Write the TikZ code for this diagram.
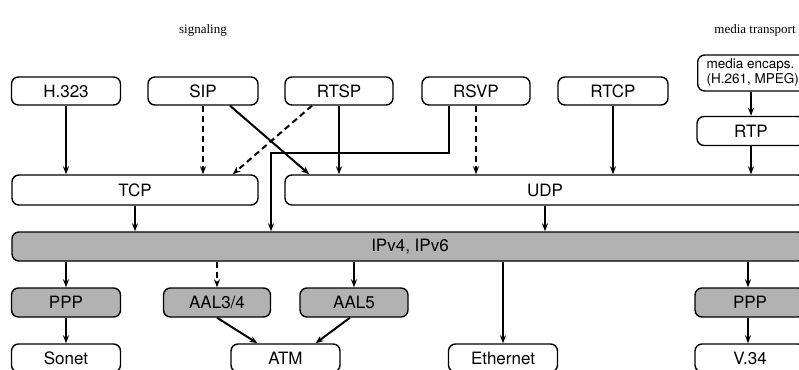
\documentclass[tikz,border=0pt]{standalone}
\usepackage{fontspec}
\setmainfont{TeX Gyre Heros}
\newfontfamily\labelfont{Liberation Serif}
\usetikzlibrary{arrows.meta}

\tikzset{
  layer/.style={draw, rounded corners=7pt, line width=1.4pt, minimum height=28pt,
    inner sep=0pt, font=\fontsize{17}{19}\selectfont},
  shaded/.style={layer, fill=black!30},
  link/.style={->, line width=2pt},
  dlink/.style={link, dash pattern=on 6pt off 4pt},
}

\begin{document}
\begin{tikzpicture}[x=1pt, y=-1pt, >={Stealth[length=8pt,width=6pt]}]
        \useasboundingbox (0,0) rectangle (799,369);

        % Kopfzeilen
        \node[font=\labelfont\fontsize{13}{15}\selectfont] (sig) at (203,30) {signaling};
        \node[font=\labelfont\fontsize{13}{15}\selectfont] (medtr) at (755,30) {media transport};

        % Anwendungen
        \node[layer, minimum width=109pt] (h323) at (66,91) {H.323};
        \node[layer, minimum width=110pt] (sip) at (203,91) {SIP};
        \node[layer, minimum width=108pt] (rtsp) at (339,91) {RTSP};
        \node[layer, minimum width=108pt] (rsvp) at (476,91) {RSVP};
        \node[layer, minimum width=110pt] (rtcp) at (613,91) {RTCP};
        \node[layer, minimum width=110pt, minimum height=36pt, anchor=west,
              inner xsep=5pt, font=\fontsize{13.5}{15.5}\selectfont] (encaps) at (697,73)
              {\begin{tabular}{@{}l@{}}media encaps.\\(H.261, MPEG)\end{tabular}\hspace{12pt}};
        \node[layer, minimum width=108pt, minimum height=29pt] (rtp) at (751,131) {RTP};

        % Transport
        \node[layer, minimum width=246pt, minimum height=30pt] (tcp) at (135,190) {TCP};
        \node[layer, minimum width=520pt, minimum height=30pt] (udp) at (545,190) {UDP};

        % Netz
        \node[shaded, minimum width=793pt, minimum height=29pt] (ip) at (408.5,246.5) {};
        \node[font=\fontsize{17}{19}\selectfont] (iplabel) at (410,246.5) {IPv4, IPv6};

        % Sicherung
        \node[shaded, minimum width=109pt, minimum height=29pt] (ppp) at (66,302.5) {PPP};
        \node[shaded, minimum width=107pt, minimum height=29pt] (aal34) at (217,302.5) {AAL3/4};
        \node[shaded, minimum width=108pt, minimum height=29pt] (aal5) at (354,302.5) {AAL5};
        \node[shaded, minimum width=110pt, minimum height=29pt] (pppv) at (750,302.5) {PPP};

        % Physik
        \node[layer, minimum width=109pt] (sonet) at (66,358) {Sonet};
        \node[layer, minimum width=109pt] (atm) at (285.5,358) {ATM};
        \node[layer, minimum width=109pt] (ether) at (503,358) {Ethernet};
        \node[layer, minimum width=110pt] (v34) at (750,358) {V.34};

        \coordinate (bend) at (271,153);

        % Pfeile oben
        \draw[link] (h323.south) -- (h323.south |- tcp.north);
        \draw[dlink] (sip.south) -- (sip.south |- tcp.north);
        \draw[link] ([xshift=27pt]sip.south) -- ([xshift=25pt]udp.north west);
        \draw[dlink] ([xshift=-27pt]rtsp.south) -- ([xshift=-26pt]tcp.north east);
        \draw[link] (rtsp.south) -- (rtsp.south |- udp.north);
        \draw[link] ([xshift=-27pt]rsvp.south) |- (bend) -- (bend |- ip.north);
        \draw[dlink] (rsvp.south) -- (rsvp.south |- udp.north);
        \draw[link] (rtcp.south) -- (rtcp.south |- udp.north);
        \draw[link] (encaps.south -| rtp.north) -- (rtp.north);
        \draw[link] (rtp.south) -- (rtp.south |- udp.north);

        % Pfeile Mitte
        \draw[link] (tcp.south) -- (tcp.south |- ip.north);
        \draw[link] (udp.south) -- (udp.south |- ip.north);

        % Pfeile unten
        \draw[link] (ppp.north |- ip.south) -- (ppp.north);
        \draw[dlink] (aal34.north |- ip.south) -- (aal34.north);
        \draw[link] (aal5.north |- ip.south) -- (aal5.north);
        \draw[link] (ether.north |- ip.south) -- (ether.north);
        \draw[link] ([xshift=-2pt]pppv.north |- ip.south) -- ([xshift=-2pt]pppv.north);
        \draw[link] ([xshift=-2pt]pppv.south) -- ([xshift=-2pt]v34.north);
        \draw[link] (ppp.south) -- (sonet.north);
        \draw[link] (aal34.south) -- ([xshift=-28pt]atm.north);
        \draw[link] ([xshift=-4pt]aal5.south) -- ([xshift=30pt]atm.north);
\end{tikzpicture}
\end{document}
